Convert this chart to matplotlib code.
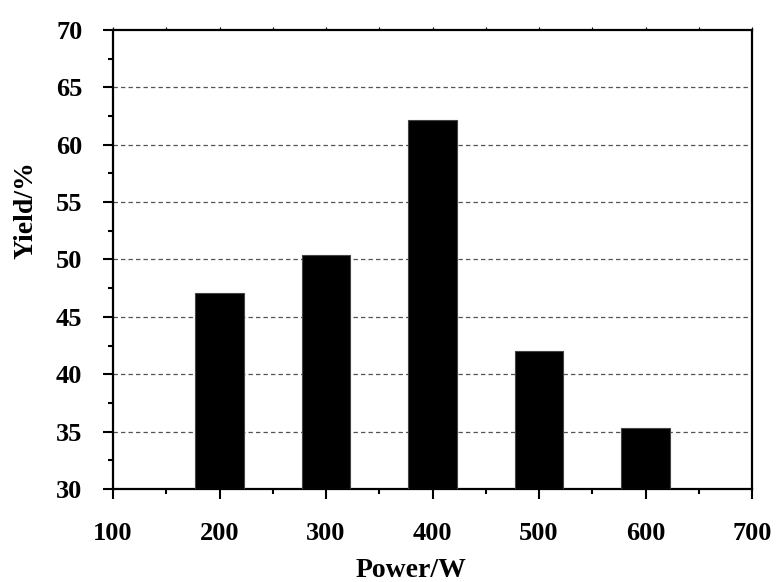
import matplotlib.pyplot as plt
from matplotlib.ticker import MultipleLocator

# Yield versus microwave power
power = [200, 300, 400, 500, 600]
yield_pct = [47.1, 50.4, 62.2, 42.0, 35.3]

plt.rcParams['font.family'] = ['Liberation Serif', 'DejaVu Serif']
plt.rcParams['font.weight'] = 'bold'

fig = plt.figure(figsize=(7.79, 5.82), dpi=100)
ax = fig.add_axes([113 / 779, 93 / 582, 639 / 779, 459 / 582])

ax.bar(power, [v - 30 for v in yield_pct], bottom=30, width=46,
       color='black', edgecolor='#444444', linewidth=0.8, zorder=3)

ax.set_xlim(100, 700)
ax.set_ylim(30, 70)
ax.xaxis.set_major_locator(MultipleLocator(100))
ax.xaxis.set_minor_locator(MultipleLocator(50))
ax.yaxis.set_major_locator(MultipleLocator(5))
ax.yaxis.set_minor_locator(MultipleLocator(2.5))

# dashed gridlines between the limits only
for y in range(35, 70, 5):
    ax.axhline(y, color='#555555', linestyle=(0, (3.5, 2.5)), linewidth=0.9, zorder=1)

for side in ['left', 'bottom', 'right', 'top']:
    ax.spines[side].set_linewidth(1.6)

ax.tick_params(axis='both', which='major', direction='out', length=7, width=1.5,
               labelsize=19)
ax.tick_params(axis='x', which='major', pad=17)
ax.tick_params(axis='y', which='major', pad=15)
ax.tick_params(axis='both', which='minor', direction='out', length=3.5, width=1.5)
ax.tick_params(axis='x', which='both', top=True, labeltop=False)
for t in ax.xaxis.get_major_ticks() + ax.xaxis.get_minor_ticks():
    t.tick2line.set_markersize(2)
    t.tick2line.set_markeredgewidth(0.8)

for lbl in ax.get_xticklabels() + ax.get_yticklabels():
    lbl.set_fontweight('bold')

ax.set_xlabel('Power/W', fontsize=20, fontweight='bold')
ax.set_ylabel('Yield/%', fontsize=20, fontweight='bold')
ax.xaxis.label.set_va('baseline')
ax.yaxis.label.set_va('baseline')
ax.xaxis.set_label_coords(0.4664, -0.192)
ax.yaxis.set_label_coords(-0.1252, 0.608)

fig.savefig('out.png', dpi=100)
